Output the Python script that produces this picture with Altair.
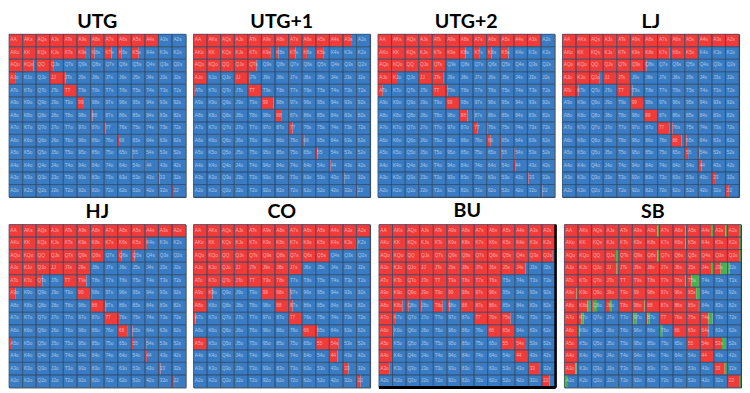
import altair as alt
import pandas as pd

RANKS = ["A", "K", "Q", "J", "T", "9", "8", "7", "6", "5", "4", "3", "2"]
POSITIONS = ["UTG", "UTG+1", "UTG+2", "LJ", "HJ", "CO", "BU", "SB"]

BLUE = "#3a7cc3"
RED = "#f03b3b"
GREEN = "#4cb04c"
GRID = "#2c4766"

UTG_RAISE = [
    [1, 1, 1, 1, 1, 1, 1, 1, 1, 1, 1, 0, 0],
    [1, 1, 1, 1, 1, .6, .3, .55, .3, .55, 0, 0, 0],
    [1, .8, 1, .25, 0, 0, 0, 0, 0, 0, 0, 0, 0],
    [.45, 0, 0, 1, .15, 0, 0, 0, 0, 0, 0, 0, 0],
    [0, 0, 0, 0, 1, 0, 0, 0, 0, 0, 0, 0, 0],
    [0, 0, 0, 0, 0, .45, 0, 0, 0, 0, 0, 0, 0],
    [0, 0, 0, 0, 0, 0, .15, 0, 0, 0, 0, 0, 0],
    [0, 0, 0, 0, 0, 0, 0, .1, 0, 0, 0, 0, 0],
    [0, 0, 0, 0, 0, 0, 0, 0, .1, 0, 0, 0, 0],
    [0, 0, 0, 0, 0, 0, 0, 0, 0, .07, 0, 0, 0],
    [0, 0, 0, 0, 0, 0, 0, 0, 0, 0, .06, 0, 0],
    [0, 0, 0, 0, 0, 0, 0, 0, 0, 0, 0, .07, 0],
    [0, 0, 0, 0, 0, 0, 0, 0, 0, 0, 0, 0, .07],
]

UTG1_RAISE = [
    [1, 1, 1, 1, 1, 1, 1, 1, 1, 1, 1, .6, 0],
    [1, 1, 1, 1, 1, .7, .25, .5, .35, .55, 0, 0, 0],
    [1, 1, 1, 1, .65, 0, 0, 0, 0, 0, 0, 0, 0],
    [1, 0, 0, 1, .15, 0, 0, 0, 0, 0, 0, 0, 0],
    [.1, 0, 0, 0, 1, 0, 0, 0, 0, 0, 0, 0, 0],
    [0, 0, 0, 0, 0, .9, 0, 0, 0, 0, 0, 0, 0],
    [0, 0, 0, 0, 0, 0, .45, 0, 0, 0, 0, 0, 0],
    [0, 0, 0, 0, 0, 0, 0, .3, 0, 0, 0, 0, 0],
    [0, 0, 0, 0, 0, 0, 0, 0, .15, 0, 0, 0, 0],
    [0, 0, 0, 0, 0, 0, 0, 0, 0, .12, 0, 0, 0],
    [0, 0, 0, 0, 0, 0, 0, 0, 0, 0, .1, 0, 0],
    [0, 0, 0, 0, 0, 0, 0, 0, 0, 0, 0, .1, 0],
    [0, 0, 0, 0, 0, 0, 0, 0, 0, 0, 0, 0, .1],
]

UTG2_RAISE = [
    [1, 1, 1, 1, 1, 1, 1, 1, 1, 1, 1, 1, 0],
    [1, 1, 1, 1, 1, 1, .45, .5, .35, .6, 0, 0, 0],
    [1, 1, 1, 1, 1, 0, 0, 0, 0, 0, 0, 0, 0],
    [1, .4, 0, 1, .8, 0, 0, 0, 0, 0, 0, 0, 0],
    [.35, 0, 0, 0, 1, .1, 0, 0, 0, 0, 0, 0, 0],
    [0, 0, 0, 0, 0, 1, 0, 0, 0, 0, 0, 0, 0],
    [0, 0, 0, 0, 0, 0, .6, .08, 0, 0, 0, 0, 0],
    [0, 0, 0, 0, 0, 0, 0, .35, .08, 0, 0, 0, 0],
    [0, 0, 0, 0, 0, 0, 0, 0, .3, .06, 0, 0, 0],
    [0, 0, 0, 0, 0, 0, 0, 0, 0, .12, .06, 0, 0],
    [0, 0, 0, 0, 0, 0, 0, 0, 0, 0, .1, 0, 0],
    [0, 0, 0, 0, 0, 0, 0, 0, 0, 0, 0, .1, 0],
    [0, 0, 0, 0, 0, 0, 0, 0, 0, 0, 0, 0, .1],
]

LJ_RAISE = [
    [1, 1, 1, 1, 1, 1, 1, 1, 1, 1, 1, 1, 1],
    [1, 1, 1, 1, 1, 1, 1, .9, 1, 1, 0, 0, 0],
    [1, 1, 1, 1, 1, 1, .2, 0, 0, 0, 0, 0, 0],
    [1, 1, .75, 1, 1, 0, 0, 0, 0, 0, 0, 0, 0],
    [1, .2, 0, 0, 1, .15, 0, 0, 0, 0, 0, 0, 0],
    [0, 0, 0, 0, 0, 1, 0, 0, 0, 0, 0, 0, 0],
    [0, 0, 0, 0, 0, 0, 1, 0, 0, 0, 0, 0, 0],
    [0, 0, 0, 0, 0, 0, 0, .9, .12, 0, 0, 0, 0],
    [0, 0, 0, 0, 0, 0, 0, 0, .75, .15, 0, 0, 0],
    [0, 0, 0, 0, 0, 0, 0, 0, 0, .25, .1, 0, 0],
    [0, 0, 0, 0, 0, 0, 0, 0, 0, 0, .25, 0, 0],
    [0, 0, 0, 0, 0, 0, 0, 0, 0, 0, 0, .3, 0],
    [0, 0, 0, 0, 0, 0, 0, 0, 0, 0, 0, 0, .25],
]

HJ_RAISE = [
    [1, 1, 1, 1, 1, 1, 1, 1, 1, 1, 1, 1, 1],
    [1, 1, 1, 1, 1, 1, 1, 1, 1, 1, .15, 0, 0],
    [1, 1, 1, 1, 1, 1, 1, 0, .3, .25, 0, 0, 0],
    [1, 1, 1, 1, 1, 1, 0, 0, 0, 0, 0, 0, 0],
    [1, 1, .45, 0, 1, .7, 0, 0, 0, 0, 0, 0, 0],
    [.5, 0, 0, 0, 0, 1, .1, 0, 0, 0, 0, 0, 0],
    [0, 0, 0, 0, 0, 0, 1, .1, 0, 0, 0, 0, 0],
    [0, 0, 0, 0, 0, 0, 0, 1, .1, 0, 0, 0, 0],
    [0, 0, 0, 0, 0, 0, 0, 0, .75, .1, 0, 0, 0],
    [.15, 0, 0, 0, 0, 0, 0, 0, 0, .2, .1, 0, 0],
    [0, 0, 0, 0, 0, 0, 0, 0, 0, 0, .15, 0, 0],
    [0, 0, 0, 0, 0, 0, 0, 0, 0, 0, 0, .15, 0],
    [0, 0, 0, 0, 0, 0, 0, 0, 0, 0, 0, 0, .15],
]

CO_RAISE = [
    [1, 1, 1, 1, 1, 1, 1, 1, 1, 1, 1, 1, 1],
    [1, 1, 1, 1, 1, 1, 1, 1, 1, 1, 1, 1, .05],
    [1, 1, 1, 1, 1, 1, 1, 1, 1, 1, 0, 0, 0],
    [1, 1, 1, 1, 1, 1, 1, 1, 0, 0, 0, 0, 0],
    [1, 1, 1, 1, 1, 1, 1, 0, 0, 0, 0, 0, 0],
    [1, .4, 0, 0, 0, 1, 1, .15, 0, 0, 0, 0, 0],
    [1, 0, 0, 0, 0, 0, 1, .3, 0, 0, 0, 0, 0],
    [.15, 0, 0, 0, 0, 0, 0, 1, 0, 0, 0, 0, 0],
    [0, 0, 0, 0, 0, 0, 0, 0, 1, .15, 0, 0, 0],
    [1, 0, 0, 0, 0, 0, 0, 0, 0, 1, .7, 0, 0],
    [0, 0, 0, 0, 0, 0, 0, 0, 0, 0, .6, 0, 0],
    [0, 0, 0, 0, 0, 0, 0, 0, 0, 0, 0, .4, 0],
    [0, 0, 0, 0, 0, 0, 0, 0, 0, 0, 0, 0, .3],
]

BU_RAISE = [
    [1, 1, 1, 1, 1, 1, 1, 1, 1, 1, 1, 1, 1],
    [1, 1, 1, 1, 1, 1, 1, 1, 1, 1, 1, 1, 1],
    [1, 1, 1, 1, 1, 1, 1, 1, 1, 1, 1, 1, .8],
    [1, 1, 1, 1, 1, 1, 1, 1, 1, 1, .8, 0, 0],
    [1, 1, 1, 1, 1, 1, 1, 1, 1, 0, 0, 0, 0],
    [1, 1, 1, 1, 1, 1, 1, 1, 1, 0, 0, 0, 0],
    [1, .75, .2, .15, .7, .2, 1, 1, 1, 0, 0, 0, 0],
    [1, .25, 0, 0, 0, 0, 0, 1, 1, .7, 0, 0, 0],
    [1, .05, 0, 0, 0, 0, 0, 0, 1, 1, 0, 0, 0],
    [1, 0, 0, 0, 0, 0, 0, 0, 0, 1, .75, 0, 0],
    [1, 0, 0, 0, 0, 0, 0, 0, 0, 0, 1, 0, 0],
    [.8, 0, 0, 0, 0, 0, 0, 0, 0, 0, 0, .85, 0],
    [0, 0, 0, 0, 0, 0, 0, 0, 0, 0, 0, 0, .55],
]

SB_RAISE = [
    [1, 1, 1, 1, 1, 1, .85, 1, .9, 1, .85, .85, .85],
    [1, 1, 1, 1, 1, 1, 1, 1, .9, 1, 1, 1, .85],
    [1, 1, 1, .8, 1, 1, .85, 1, 1, 1, 1, 1, .85],
    [1, 1, 1, .85, 1, 1, 1, 1, 1, 1, .85, .5, 0],
    [1, 1, 1, 1, 1, 1, 1, 1, .9, .35, 0, 0, 0],
    [.9, 1, 1, 1, 1, 1, 1, 1, 1, .7, 0, 0, 0],
    [1, .7, .1, .35, 1, .9, 1, 1, 1, .9, 0, 0, 0],
    [1, .25, 0, 0, 0, .1, .1, 1, 1, 1, .6, 0, 0],
    [1, 0, 0, 0, 0, 0, 0, 0, 1, 1, .6, 0, 0],
    [1, 0, 0, 0, 0, 0, 0, 0, 0, 1, 1, .6, 0],
    [1, 0, 0, 0, 0, 0, 0, 0, 0, 0, 1, 0, 0],
    [.8, 0, 0, 0, 0, 0, 0, 0, 0, 0, 0, .8, 0],
    [0, 0, 0, 0, 0, 0, 0, 0, 0, 0, 0, 0, .85],
]

SB_LIMP = [
    [0, 0, 0, 0, 0, 0, .15, 0, .1, 0, .15, .15, .15],
    [0, 0, 0, 0, 0, 0, 0, 0, .1, 0, 0, 0, .15],
    [0, 0, 0, .2, 0, 0, .15, 0, 0, 0, 0, 0, .15],
    [0, 0, 0, .15, 0, 0, 0, 0, 0, 0, .15, .45, .15],
    [0, 0, 0, 0, 0, 0, 0, 0, .1, .55, 0, 0, 0],
    [.1, 0, 0, 0, 0, 0, 0, 0, 0, .25, 0, 0, 0],
    [0, .2, .3, .15, 0, .1, 0, 0, 0, .1, 0, 0, 0],
    [0, .15, 0, 0, 0, .2, .15, 0, 0, 0, .3, 0, 0],
    [0, .12, 0, 0, 0, 0, 0, .2, 0, 0, 0, 0, 0],
    [0, 0, 0, 0, 0, 0, 0, 0, 0, 0, 0, .3, 0],
    [0, 0, 0, 0, 0, 0, 0, 0, 0, 0, 0, 0, 0],
    [.1, 0, 0, 0, 0, 0, 0, 0, 0, 0, 0, .2, 0],
    [.2, 0, 0, 0, 0, 0, 0, 0, 0, 0, 0, 0, .15],
]

RAISES = [UTG_RAISE, UTG1_RAISE, UTG2_RAISE, LJ_RAISE,
          HJ_RAISE, CO_RAISE, BU_RAISE, SB_RAISE]
ACTIONS = ["raise", "limp", "fold"]
ACTION_COLORS = [RED, GREEN, BLUE]


def hand(i, j):
    if i == j:
        return RANKS[i] + RANKS[i]
    if j > i:
        return RANKS[i] + RANKS[j] + "s"
    return RANKS[j] + RANKS[i] + "o"


def build(name, raise_rows, limp_rows=None):
    cells, segs = [], []
    for i in range(13):
        for j in range(13):
            r = float(raise_rows[i][j])
            lp = float(limp_rows[i][j]) if limp_rows else 0.0
            cells.append(dict(pos=name, row=i, row1=i + 1, col=j, col1=j + 1,
                              label=hand(i, j), lx=j + 0.1, ly=i + 0.5))
            parts = [("raise", r), ("limp", lp), ("fold", max(0.0, 1 - r - lp))]
            start = float(j)
            for act, frac in parts:
                if frac > 0:
                    segs.append(dict(pos=name, row=i, row1=i + 1, x0=start,
                                     x1=start + frac, action=act))
                    start += frac
    return pd.DataFrame(cells), pd.DataFrame(segs)


W, H = 180, 166
XS = alt.Scale(domain=[0, 13], nice=False, zero=False)
YS = alt.Scale(domain=[0, 13], nice=False, zero=False, reverse=True)
CS = alt.Scale(domain=ACTIONS, range=ACTION_COLORS)


def panel(name, cells, segs, heavy_border=False):
    fills = alt.Chart(segs).mark_rect().encode(
        x=alt.X("x0:Q", scale=XS, axis=None), x2="x1:Q",
        y=alt.Y("row:Q", scale=YS, axis=None), y2="row1:Q",
        color=alt.Color("action:N", scale=CS, legend=None))
    grid = alt.Chart(cells).mark_rect(filled=False, stroke=GRID, strokeWidth=0.7,
                                      strokeOpacity=0.85).encode(
        x=alt.X("col:Q", scale=XS, axis=None), x2="col1:Q",
        y=alt.Y("row:Q", scale=YS, axis=None), y2="row1:Q")
    text = alt.Chart(cells).mark_text(align="left", baseline="middle", fontSize=4.8,
                                      font="Liberation Sans", color="white",
                                      opacity=0.55).encode(
        x=alt.X("lx:Q", scale=XS, axis=None),
        y=alt.Y("ly:Q", scale=YS, axis=None), text="label:N")
    layers = [fills, grid, text]
    if heavy_border:
        edge = pd.DataFrame({"v": [13]})
        layers.append(alt.Chart(edge).mark_rule(color="black", strokeWidth=2.5).encode(
            x=alt.X("v:Q", scale=XS, axis=None)))
        layers.append(alt.Chart(edge).mark_rule(color="black", strokeWidth=3).encode(
            y=alt.Y("v:Q", scale=YS, axis=None)))
    return alt.layer(*layers).properties(
        width=W, height=H,
        title=alt.TitleParams(name, fontSize=20, font="Lato", fontWeight="bold",
                              color="black", offset=2, anchor="middle"))


panels = []
for k, name in enumerate(POSITIONS):
    cells, segs = build(name, RAISES[k], SB_LIMP if name == "SB" else None)
    panels.append(panel(name, cells, segs, heavy_border=(name == "BU")))

row1 = alt.hconcat(*panels[:4], spacing=6)
row2 = alt.hconcat(*panels[4:], spacing=6)
chart = alt.vconcat(row1, row2, spacing=3, padding=0).configure_view(
    stroke="#2f3f4f", strokeWidth=1)

chart.save("out.html", embed_options={"renderer": "svg", "actions": False})
